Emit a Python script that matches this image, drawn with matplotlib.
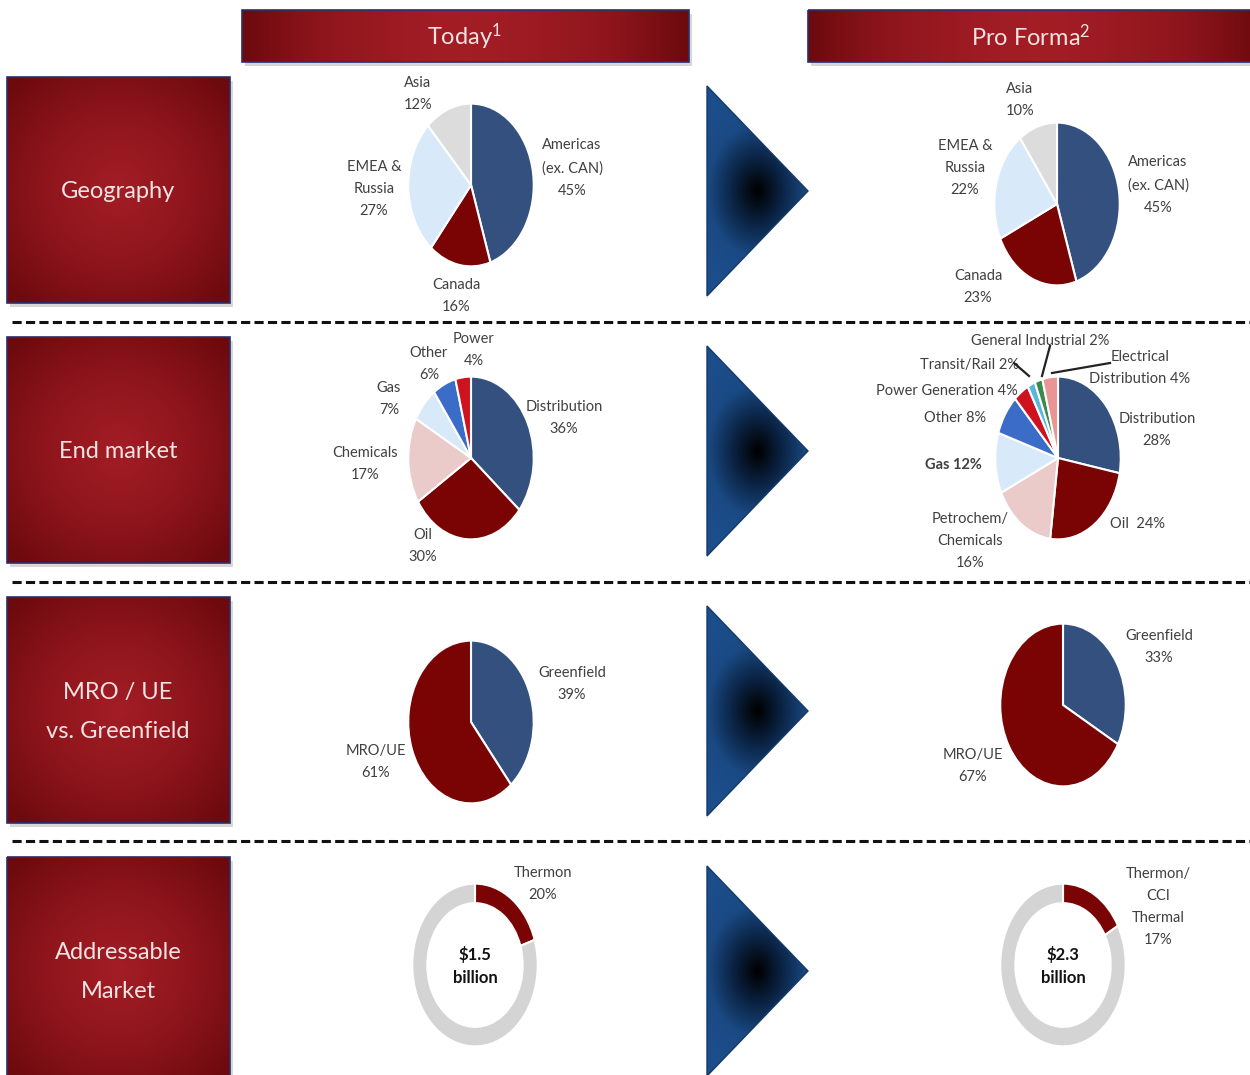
import numpy as np
import matplotlib
matplotlib.use('Agg')
import matplotlib.pyplot as plt
from matplotlib.patches import Polygon, Rectangle
from matplotlib.colors import LinearSegmentedColormap

W, H = 1250, 1075
plt.rcParams['font.family'] = ['Lato', 'DejaVu Sans']
plt.rcParams['mathtext.fontset'] = 'custom'
plt.rcParams['mathtext.rm'] = 'Lato'
plt.rcParams['mathtext.it'] = 'Lato'

# ---------------------------------------------------------------------------
# Data
# ---------------------------------------------------------------------------
geo_labels = ['Americas', 'Canada', 'EMEA & Russia', 'Asia']
geo_today = [45, 16, 27, 12]
geo_pro = [45, 23, 22, 10]

end_today_labels = ['Distribution', 'Oil', 'Chemicals', 'Gas', 'Other', 'Power']
end_today = [36, 30, 17, 7, 6, 4]
end_pro_labels = ['Distribution', 'Oil', 'Petrochem/Chemicals', 'Gas', 'Other',
                  'Power Generation', 'Transit/Rail', 'General Industrial',
                  'Electrical Distribution']
end_pro = [28, 24, 16, 12, 8, 4, 2, 2, 4]

mro_labels = ['Greenfield', 'MRO/UE']
mro_today = [39, 61]
mro_pro = [33, 67]

market_size = ['$1.5\nbillion', '$2.3\nbillion']
thermon_share = [20, 17]

# colours
C_NAVY = '#33507e'
C_DRED = '#7a0303'
C_LBLUE = '#d8e9f9'
C_GREY = '#dcdcdc'
C_PINK = '#ebcaca'
C_MBLUE = '#3b6cc7'
C_RED = '#cf1220'
C_TEAL = '#5cb6d8'
C_GREEN = '#3a8a4c'
C_SALMON = '#e99595'
C_RING = '#d4d4d4'
C_TXT = '#404040'
C_HEAD = '#f3e3e3'

geo_colors = [C_NAVY, C_DRED, C_LBLUE, C_GREY]
end_today_colors = [C_NAVY, C_DRED, C_PINK, C_LBLUE, C_MBLUE, C_RED]
end_pro_colors = [C_NAVY, C_DRED, C_PINK, C_LBLUE, C_MBLUE, C_RED, C_TEAL,
                  C_GREEN, C_SALMON]
mro_colors = [C_NAVY, C_DRED]

fig = plt.figure(figsize=(W / 100, H / 100), dpi=100)
ax = fig.add_axes([0, 0, 1, 1])
ax.set_xlim(0, W)
ax.set_ylim(H, 0)
ax.axis('off')

red_cmap = LinearSegmentedColormap.from_list('r', ['#a31d25', '#8e151c', '#6c0a0e'])
blue_cmap = LinearSegmentedColormap.from_list('b', ['#000000', '#0b2445', '#1a4a84', '#1c4e8b'])


def grad_box(x0, y0, x1, y1, kind):
    # drop shadow
    ax.add_patch(Rectangle((x0 + 3, y0 + 4), x1 - x0, y1 - y0, color='#b0b0b0',
                           alpha=0.5, lw=0, zorder=1))
    nx, ny = 200, 100
    xx, yy = np.meshgrid(np.linspace(-1, 1, nx), np.linspace(-1, 1, ny))
    if kind == 'h':
        g = np.abs(xx) ** 1.6
    else:
        g = np.clip(np.sqrt(xx ** 2 + yy ** 2) / 1.35, 0, 1)
    ax.imshow(g, cmap=red_cmap, extent=(x0, x1, y1, y0), origin='upper',
              aspect='auto', zorder=2, interpolation='bilinear')
    ax.add_patch(Rectangle((x0, y0), x1 - x0, y1 - y0, fill=False,
                           ec='#2a2f6e', lw=1.2, zorder=3))


def arrow(x0, ytop, ybot, xtip):
    ymid = (ytop + ybot) / 2
    poly = Polygon([(x0, ytop), (xtip, ymid), (x0, ybot)], closed=True,
                   fc='none', ec='#14396a', lw=1.0, zorder=4)
    ax.add_patch(poly)
    cx, cy = x0 + (xtip - x0) * 0.5, ymid
    n = 200
    xs = np.linspace(x0, xtip, n)
    ys = np.linspace(ytop, ybot, n)
    xx, yy = np.meshgrid(xs, ys)
    r = np.sqrt(((xx - cx) / 75) ** 2 + ((yy - cy) / 100) ** 2)
    im = ax.imshow(np.clip(r, 0, 1), cmap=blue_cmap,
                   extent=(x0, xtip, ybot, ytop), origin='upper',
                   aspect='auto', zorder=3, interpolation='bilinear')
    im.set_clip_path(poly)


# headers
grad_box(242, 10, 689, 62, 'h')
grad_box(808, 10, 1262, 62, 'h')
ax.text(465, 37, r'Today$^{1}$', color=C_HEAD, fontsize=17, ha='center', va='center', zorder=5)
ax.text(1031, 37, r'Pro Forma$^{2}$', color=C_HEAD, fontsize=17, ha='center', va='center', zorder=5)

# row boxes, arrows and separators
row_tops = [77, 337, 597, 857]
row_names = ['Geography', 'End market', 'MRO / UE\nvs. Greenfield', 'Addressable\nMarket']
for top, name in zip(row_tops, row_names):
    bot = min(top + 226, H + 10)
    grad_box(7, top, 230, bot, 'r')
    ax.text(118, top + 115, name, color=C_HEAD, fontsize=17, ha='center',
            va='center', linespacing=2.05, zorder=5)
    arrow(707, top + 9, top + 219, 808)

for y in [322, 582, 841]:
    ax.plot([12, W], [y, y], color='#111111', lw=2.2, ls=(0, (3.0, 1.4)), zorder=2)


def pie_axes(cx, cy, rx=64, ry=83):
    pa = fig.add_axes([(cx - rx) / W, 1 - (cy + ry) / H, 2 * rx / W, 2 * ry / H])
    pa.axis('off')
    return pa


def draw_pie(cx, cy, vals, colors, rx=64, ry=83, width=None):
    pa = pie_axes(cx, cy, rx, ry)
    wp = dict(edgecolor='white', linewidth=1.5)
    if width is not None:
        wp['width'] = width
    pa.pie(vals, colors=colors, startangle=90, counterclock=False,
           wedgeprops=wp, normalize=True)
    pa.set_aspect('auto')
    pa.set_xlim(-1.02, 1.02)
    pa.set_ylim(-1.02, 1.02)
    return pa


def lab(x, y, s, bold=False, ha='center'):
    ax.text(x, y, s, color=C_TXT, fontsize=10.5, ha=ha, va='center',
            linespacing=1.75, fontweight='bold' if bold else 'normal', zorder=6)


# Geography
draw_pie(471, 185, geo_today, geo_colors)
lab(418, 94, f'Asia\n{geo_today[3]}%')
lab(374, 189, f'EMEA &\nRussia\n{geo_today[2]}%')
lab(572, 168, f'Americas\n(ex. CAN)\n{geo_today[0]}%')
lab(456, 296, f'Canada\n{geo_today[1]}%')

draw_pie(1057, 204, geo_pro, geo_colors)
lab(1020, 100, f'Asia\n{geo_pro[3]}%')
lab(965, 168, f'EMEA &\nRussia\n{geo_pro[2]}%')
lab(1158, 185, f'Americas\n(ex. CAN)\n{geo_pro[0]}%')
lab(978, 287, f'Canada\n{geo_pro[1]}%')

# End market
draw_pie(471, 458, end_today, end_today_colors)
lab(564, 418, f'Distribution\n{end_today[0]}%')
lab(423, 546, f'Oil\n{end_today[1]}%')
lab(365, 464, f'Chemicals\n{end_today[2]}%')
lab(389, 399, f'Gas\n{end_today[3]}%')
lab(429, 364, f'Other\n{end_today[4]}%')
lab(474, 350, f'Power\n{end_today[5]}%')

draw_pie(1058, 458, end_pro, end_pro_colors)
lab(1157, 430, f'Distribution\n{end_pro[0]}%')
lab(1137, 524, f'Oil  {end_pro[1]}%')
lab(970, 541, f'Petrochem/\nChemicals\n{end_pro[2]}%')
lab(953, 465, f'Gas {end_pro[3]}%', bold=True)
lab(955, 418, f'Other {end_pro[4]}%')
lab(947, 391, f'Power Generation {end_pro[5]}%')
lab(970, 365, f'Transit/Rail {end_pro[6]}%')
lab(1040, 341, f'General Industrial {end_pro[7]}%')
lab(1140, 368, f'Electrical\nDistribution {end_pro[8]}%')
for (xa, ya), (xb, yb) in [((1014, 363), (1029, 376)),
                           ((1050, 346), (1042, 376)),
                           ((1110, 363), (1052, 373))]:
    ax.plot([xa, xb], [ya, yb], color='#222222', lw=1.6, zorder=7)

# MRO / UE vs Greenfield
draw_pie(471, 722, mro_today, mro_colors)
lab(572, 684, f'Greenfield\n{mro_today[0]}%')
lab(376, 762, f'MRO/UE\n{mro_today[1]}%')

draw_pie(1063, 705, mro_pro, mro_colors)
lab(1159, 647, f'Greenfield\n{mro_pro[0]}%')
lab(973, 766, f'MRO/UE\n{mro_pro[1]}%')

# Addressable market
for cx, size, share in zip([475, 1063], market_size, thermon_share):
    draw_pie(cx, 965, [share, 100 - share], [C_DRED, C_RING], width=0.24)
    ax.text(cx, 966, size, color='#111111', fontsize=12, fontweight='bold',
            ha='center', va='center', linespacing=1.5, zorder=6)
lab(543, 884, f'Thermon\n{thermon_share[0]}%')
lab(1158, 907, f'Thermon/\nCCI\nThermal\n{thermon_share[1]}%')

fig.savefig('out.png', dpi=100)
